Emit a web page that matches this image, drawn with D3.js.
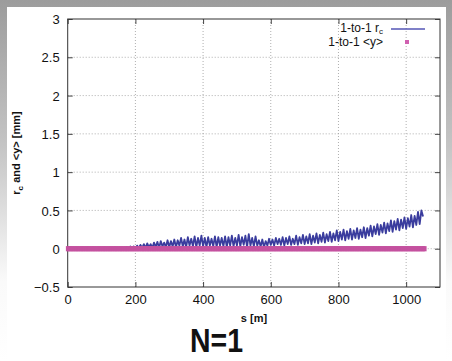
<!DOCTYPE html>
<html>
<head>
<meta charset="utf-8">
<script src="https://cdn.jsdelivr.net/npm/d3@7"></script>
<style>
  html, body { margin: 0; padding: 0; background: #fff; }
  svg { display: block; }
</style>
</head>
<body>
<div id="chart"></div>
<script>
// x axis ticks (s in metres) and y axis ticks (mm)
const xTicks = [0, 200, 400, 600, 800, 1000];
const yTicks = [-0.5, 0, 0.5, 1, 1.5, 2, 2.5, 3];

const rcStart = 150;
const rcStep = 5;
const rcValues = [
  0.00, 0.01, 0.00, 0.01, 0.00, 0.02, 0.00, 0.03, 0.01, 0.03,
  0.00, 0.04, 0.01, 0.05, 0.01, 0.06, 0.01, 0.07, 0.02, 0.06,
  0.01, 0.08, 0.02, 0.09, 0.01, 0.10, 0.03, 0.08, 0.02, 0.11,
  0.02, 0.10, 0.03, 0.12, 0.02, 0.11, 0.04, 0.14, 0.03, 0.12,
  0.02, 0.15, 0.04, 0.13, 0.03, 0.16, 0.02, 0.14, 0.04, 0.17,
  0.03, 0.14, 0.02, 0.15, 0.04, 0.13, 0.03, 0.16, 0.02, 0.15,
  0.04, 0.14, 0.03, 0.16, 0.02, 0.15, 0.04, 0.17, 0.03, 0.14,
  0.04, 0.18, 0.03, 0.15, 0.05, 0.17, 0.02, 0.19, 0.04, 0.14,
  0.03, 0.16, 0.04, 0.11, 0.03, 0.12, 0.02, 0.10, 0.04, 0.13,
  0.05, 0.12, 0.04, 0.14, 0.06, 0.13, 0.05, 0.15, 0.04, 0.14,
  0.06, 0.16, 0.05, 0.13, 0.06, 0.17, 0.05, 0.15, 0.07, 0.18,
  0.06, 0.16, 0.07, 0.19, 0.06, 0.17, 0.08, 0.20, 0.07, 0.18,
  0.09, 0.21, 0.08, 0.19, 0.10, 0.22, 0.09, 0.20, 0.11, 0.24,
  0.10, 0.22, 0.12, 0.25, 0.11, 0.23, 0.13, 0.26, 0.12, 0.24,
  0.14, 0.27, 0.13, 0.25, 0.15, 0.28, 0.14, 0.27, 0.17, 0.30,
  0.16, 0.29, 0.19, 0.32, 0.18, 0.31, 0.21, 0.34, 0.20, 0.33,
  0.23, 0.37, 0.22, 0.36, 0.25, 0.39, 0.24, 0.38, 0.27, 0.41,
  0.26, 0.40, 0.29, 0.44, 0.28, 0.43, 0.31, 0.48, 0.32, 0.50,
  0.42
];

// 1-to-1 <y>: points every 5 m up to ~1055 m, all at 0 mm
const yMeanS = d3.range(0, 1056, 5);
const yMeanValue = 0;

const rcData = rcValues.map((v, i) => ({ s: rcStart + i * rcStep, v }));

const width = 452, height = 361;
const plot = { left: 67.7, right: 440, top: 19, bottom: 287 };

const svg = d3.select('#chart').append('svg')
  .attr('width', width)
  .attr('height', height);

// slide background: grey frame fading to white
const defs = svg.append('defs');
const grad = defs.append('linearGradient')
  .attr('id', 'bg').attr('x1', 0).attr('y1', 0).attr('x2', 0).attr('y2', 1);
grad.append('stop').attr('offset', '0%').attr('stop-color', '#9c9c9c');
grad.append('stop').attr('offset', '40%').attr('stop-color', '#c4c4c4');
grad.append('stop').attr('offset', '78%').attr('stop-color', '#fafafa');
grad.append('stop').attr('offset', '100%').attr('stop-color', '#ffffff');

svg.append('rect').attr('width', width).attr('height', height).attr('fill', 'url(#bg)');
svg.append('rect')
  .attr('x', 7).attr('y', 7)
  .attr('width', 439).attr('height', height - 7)
  .attr('fill', '#fff');

const x = d3.scaleLinear().domain([0, 1100]).range([plot.left, plot.right]);
const y = d3.scaleLinear().domain([-0.5, 3]).range([plot.bottom, plot.top]);

// grid
const grid = svg.append('g').attr('stroke', '#9a9a9a').attr('stroke-width', 0.8)
  .attr('stroke-dasharray', '1,2');
grid.selectAll('line.gx')
  .data(xTicks.filter(t => t > 0))
  .join('line')
    .attr('x1', d => x(d)).attr('x2', d => x(d))
    .attr('y1', plot.top).attr('y2', plot.bottom);
grid.selectAll('line.gy')
  .data(yTicks.filter(t => t > -0.5 && t < 3))
  .join('line')
    .attr('x1', plot.left).attr('x2', plot.right)
    .attr('y1', d => y(d)).attr('y2', d => y(d));

// axes (gnuplot style: inward ticks, mirrored)
const tickFont = '"Liberation Sans", Arial, sans-serif';
const xAxis = svg.append('g')
  .attr('transform', `translate(0,${plot.bottom})`)
  .call(d3.axisBottom(x).tickValues(xTicks).tickFormat(d3.format('d'))
    .tickSizeInner(-5).tickSizeOuter(0).tickPadding(8));
const yAxis = svg.append('g')
  .attr('transform', `translate(${plot.left},0)`)
  .call(d3.axisLeft(y).tickValues(yTicks).tickFormat(d3.format(''))
    .tickSizeInner(-5).tickSizeOuter(0).tickPadding(8));
svg.append('g')
  .attr('transform', `translate(0,${plot.top})`)
  .call(d3.axisTop(x).tickValues(xTicks).tickSizeInner(-5).tickSizeOuter(0).tickFormat(''));
svg.append('g')
  .attr('transform', `translate(${plot.right},0)`)
  .call(d3.axisRight(y).tickValues(yTicks).tickSizeInner(-5).tickSizeOuter(0).tickFormat(''));

svg.selectAll('.domain').remove();
svg.selectAll('.tick line').attr('stroke', '#444');
[xAxis, yAxis].forEach(a => a.selectAll('text')
  .attr('font-family', tickFont).attr('font-size', 13).attr('fill', '#111'));
yAxis.selectAll('text').attr('dy', '0.36em');

// frame
svg.append('rect')
  .attr('x', plot.left).attr('y', plot.top)
  .attr('width', plot.right - plot.left).attr('height', plot.bottom - plot.top)
  .attr('fill', 'none').attr('stroke', '#333').attr('stroke-width', 1);

// r_c series
const line = d3.line().x(d => x(d.s)).y(d => y(d.v));
svg.append('path')
  .datum(rcData)
  .attr('d', line)
  .attr('fill', 'none')
  .attr('stroke', '#3a3c9e')
  .attr('stroke-width', 1.8)
  .attr('stroke-linejoin', 'round');

// <y> series as dense point markers
svg.append('g').selectAll('rect')
  .data(yMeanS)
  .join('rect')
    .attr('x', d => x(d) - 1.8)
    .attr('y', y(yMeanValue) - 2.6)
    .attr('width', 3.6)
    .attr('height', 5.2)
    .attr('fill', '#c4519f');

// legend
const legend = svg.append('g')
  .attr('font-family', tickFont).attr('font-size', 12).attr('fill', '#111');
const l1 = legend.append('text').attr('x', 383).attr('y', 32).attr('text-anchor', 'end');
l1.append('tspan').text('1-to-1 r');
l1.append('tspan').attr('font-size', 8).attr('dy', 2).text('c');
legend.append('line')
  .attr('x1', 391).attr('x2', 425).attr('y1', 29).attr('y2', 29)
  .attr('stroke', '#5556b6').attr('stroke-width', 1.5);
legend.append('text').attr('x', 383).attr('y', 46).attr('text-anchor', 'end')
  .text('1-to-1 <y>');
legend.append('rect')
  .attr('x', 405).attr('y', 40).attr('width', 4).attr('height', 4)
  .attr('fill', '#d060b0');

// axis titles
svg.append('text')
  .attr('x', 254).attr('y', 322)
  .attr('text-anchor', 'middle')
  .attr('font-family', tickFont).attr('font-size', 11).attr('font-weight', 'bold')
  .attr('fill', '#111')
  .text('s [m]');

const yl = svg.append('text')
  .attr('transform', 'translate(20,153) rotate(-90)')
  .attr('text-anchor', 'middle')
  .attr('font-family', tickFont).attr('font-size', 11).attr('font-weight', 'bold')
  .attr('fill', '#111');
yl.append('tspan').text('r');
yl.append('tspan').attr('font-size', 8).attr('dy', 3).text('c');
yl.append('tspan').attr('dy', -3).text(' and <y> [mm]');

svg.append('text')
  .attr('x', 190).attr('y', 352)
  .attr('font-family', tickFont).attr('font-size', 33).attr('font-weight', 'bold')
  .attr('textLength', 53).attr('lengthAdjust', 'spacingAndGlyphs')
  .attr('fill', '#111')
  .text('N=1');
</script>
</body>
</html>
